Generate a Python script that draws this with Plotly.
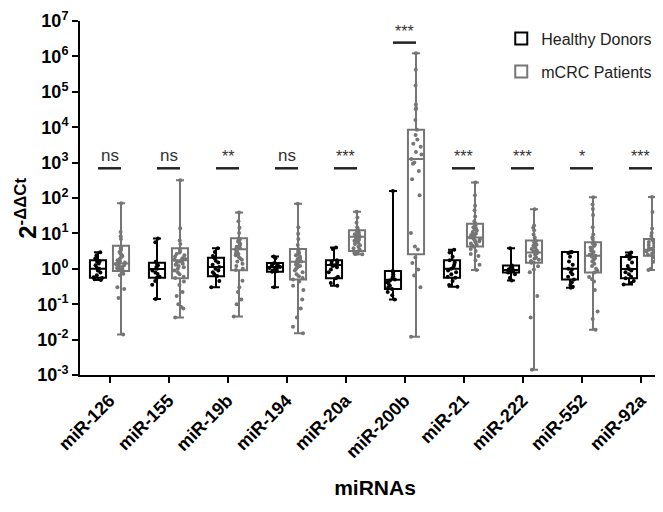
import math
import plotly.graph_objects as go

mirnas = ["miR-126", "miR-155", "miR-19b", "miR-194", "miR-20a",
          "miR-200b", "miR-21", "miR-222", "miR-552", "miR-92a"]

# Healthy donors: box statistics (min/max whiskers, quartiles, median)
hd_min = [0.48, 0.14, 0.30, 0.30, 0.33, 0.135, 0.31, 0.47, 0.29, 0.36]
hd_q1 = [0.56, 0.56, 0.62, 0.83, 0.54, 0.27, 0.56, 0.79, 0.50, 0.54]
hd_med = [1.0, 0.98, 1.12, 1.12, 1.29, 0.49, 1.0, 0.93, 1.0, 0.98]
hd_q3 = [1.74, 1.48, 2.04, 1.45, 1.74, 0.87, 1.74, 1.23, 3.0, 2.14]
hd_max = [2.95, 7.2, 3.8, 2.24, 4.0, 158, 3.47, 3.8, 3.0, 2.9]

# mCRC patients: box statistics
pt_min = [0.014, 0.042, 0.045, 0.015, 2.57, 0.012, 0.93, 0.0014, 0.019, 0.93]
pt_q1 = [0.87, 0.54, 0.91, 0.50, 3.16, 2.57, 4.27, 1.48, 0.79, 2.34]
pt_med = [1.41, 1.74, 3.55, 1.58, 8.1, 1260, 7.6, 2.88, 2.34, 3.47]
pt_q3 = [4.47, 3.8, 7.24, 3.63, 12.3, 8500, 18.6, 6.3, 5.62, 6.9]
pt_max = [70.8, 316, 38.9, 69, 40.7, 1.23e6, 275, 48, 105, 107]

# Individual sample values
hd_points = [
    [2.95, 2.4, 2.0, 1.66, 1.58, 1.41, 1.26, 1.07, 1.0, 0.89, 0.79, 0.66, 0.58, 0.55, 0.51, 0.48],
    [7.2, 5.6, 1.58, 1.41, 1.26, 1.12, 1.0, 0.89, 0.79, 0.71, 0.6, 0.56, 0.45, 0.355, 0.14],
    [3.8, 3.0, 2.3, 2.0, 1.7, 1.5, 1.3, 1.12, 1.0, 0.9, 0.8, 0.7, 0.63, 0.45, 0.3],
    [2.24, 2.0, 1.45, 1.38, 1.3, 1.22, 1.15, 1.12, 1.06, 1.0, 0.95, 0.9, 0.85, 0.83, 0.3],
    [4.0, 3.6, 1.74, 1.6, 1.5, 1.4, 1.3, 1.25, 1.2, 1.1, 0.95, 0.8, 0.6, 0.54, 0.4, 0.33],
    [158, 0.87, 0.8, 0.7, 0.62, 0.55, 0.5, 0.47, 0.42, 0.38, 0.33, 0.3, 0.27, 0.22, 0.18, 0.135],
    [3.47, 2.9, 2.2, 1.74, 1.5, 1.3, 1.15, 1.0, 0.9, 0.8, 0.7, 0.6, 0.56, 0.45, 0.35, 0.31],
    [3.8, 1.23, 1.15, 1.1, 1.05, 1.0, 0.97, 0.93, 0.9, 0.87, 0.84, 0.8, 0.79, 0.7, 0.55, 0.47],
    [3.0, 2.95, 2.9, 2.8, 2.2, 1.6, 1.3, 1.0, 0.95, 0.8, 0.7, 0.6, 0.5, 0.42, 0.35, 0.31, 0.29],
    [2.9, 2.6, 2.3, 2.14, 1.9, 1.5, 1.2, 1.0, 0.96, 0.9, 0.8, 0.7, 0.6, 0.54, 0.45, 0.4, 0.36],
]
pt_points = [
    [70.8, 11, 8.3, 6.9, 4.2, 3.8, 3.4, 3.0, 2.7, 2.5, 2.3, 2.1, 1.9, 1.75, 1.6, 1.5, 1.41, 1.35,
     1.28, 1.2, 1.12, 1.05, 1.0, 0.95, 0.9, 0.72, 0.66, 0.3, 0.27, 0.15, 0.014],
    [316, 14, 6.3, 5.0, 3.6, 3.2, 2.9, 2.6, 2.4, 2.2, 2.0, 1.9, 1.8, 1.7, 1.6, 1.5, 1.4, 1.3, 1.2,
     1.1, 1.0, 0.9, 0.8, 0.7, 0.6, 0.55, 0.44, 0.35, 0.22, 0.17, 0.1, 0.083, 0.076, 0.042],
    [38.9, 22, 14.5, 10.2, 7.2, 6.8, 6.3, 5.9, 5.5, 5.0, 4.6, 4.2, 3.9, 3.6, 3.5, 3.3, 3.0, 2.8,
     2.6, 2.4, 2.2, 2.0, 1.8, 1.6, 1.4, 1.2, 1.0, 0.92, 0.46, 0.3, 0.22, 0.135, 0.1, 0.045],
    [69, 15, 9.8, 6.9, 4.7, 3.6, 3.3, 3.0, 2.8, 2.6, 2.4, 2.2, 2.0, 1.9, 1.75, 1.6, 1.5, 1.4, 1.3,
     1.2, 1.1, 1.0, 0.9, 0.8, 0.7, 0.62, 0.55, 0.5, 0.44, 0.33, 0.25, 0.135, 0.076, 0.042, 0.023, 0.015],
    [40.7, 28, 20, 15, 13, 12, 11.5, 11, 10.5, 10, 9.5, 9, 8.5, 8.1, 7.8, 7.4, 7, 6.6, 6.2, 5.8,
     5.4, 5, 4.6, 4.2, 3.8, 3.5, 3.2, 3.0, 2.8, 2.7, 2.6, 2.57],
    [1.23e6, 4.2e5, 1.5e5, 4.4e4, 3.5e4, 3.2e4, 1.6e4, 8500, 6000, 4500, 3400, 2800, 2000, 1700,
     1260, 1000, 930, 580, 340, 120, 10.2, 4.3, 3.5, 2.1, 1.45, 0.95, 0.65, 0.3, 0.012],
    [275, 120, 60, 45, 30, 22, 18.6, 17, 15, 14, 13, 12, 11, 10, 9.5, 9, 8.5, 8, 7.6, 7.2, 6.8,
     6.4, 6.0, 5.6, 5.2, 4.8, 4.5, 4.27, 3.6, 3.2, 2.6, 2.3, 1.75, 1.3, 0.93],
    [48, 16.6, 14.5, 12.3, 9.3, 7.6, 6.3, 6.0, 5.6, 5.2, 4.8, 4.5, 4.2, 3.9, 3.6, 3.3, 3.1, 2.9,
     2.7, 2.5, 2.3, 2.1, 1.95, 1.8, 1.65, 1.5, 1.48, 1.18, 0.96, 0.8, 0.17, 0.042, 0.0014],
    [105, 66, 49, 33, 15, 9.3, 7.6, 6.9, 5.6, 5.2, 4.8, 4.4, 4.0, 3.6, 3.3, 3.0, 2.7, 2.5, 2.34,
     2.2, 2.0, 1.8, 1.6, 1.4, 1.2, 1.0, 0.9, 0.79, 0.59, 0.51, 0.44, 0.25, 0.062, 0.038, 0.019],
    [107, 40, 13.8, 10.2, 8.5, 6.9, 6.5, 6.1, 5.7, 5.3, 5.0, 4.7, 4.4, 4.1, 3.9, 3.7, 3.47, 3.3,
     3.1, 2.9, 2.7, 2.5, 2.34, 2.1, 1.9, 1.58, 1.3, 1.0, 0.93],
]

# Significance labels and the height of their bars
sig_labels = ["ns", "ns", "**", "ns", "***", "***", "***", "***", "*", "***"]
sig_heights = [690, 690, 690, 690, 690, 2.45e6, 690, 690, 690, 690]

ytick_exps = [-3, -2, -1, 0, 1, 2, 3, 4, 5, 6, 7]

FONT = "Liberation Sans, Arial, sans-serif"
GRAY = "#757575"
BOXGAP = 0.22
BOXGROUPGAP = 0.30
M_L, M_R, M_T, M_B = 72, 1, 5, 145
W, H = 663, 512

fig = go.Figure()
groups = [
    ("Healthy Donors", "hd", "black", hd_points, hd_min, hd_q1, hd_med, hd_q3, hd_max),
    ("mCRC Patients", "pt", GRAY, pt_points, pt_min, pt_q1, pt_med, pt_q3, pt_max),
]
for name, og, col, pts, mn, q1, md, q3, mx in groups:
    fig.add_trace(go.Box(
        name=name, x=mirnas, y=pts,
        q1=q1, median=md, q3=q3, lowerfence=mn, upperfence=mx,
        boxpoints="all", jitter=0.7, pointpos=0,
        fillcolor="white", line=dict(color=col, width=2), whiskerwidth=0.5,
        marker=dict(color=col, size=4),
        offsetgroup=og, legendgroup=og,
    ))

half = (1 - BOXGAP) / 4
shapes = []
annotations = []
for i, (lab, h) in enumerate(zip(sig_labels, sig_heights)):
    shapes.append(dict(type="line", xref="x", yref="y", x0=i - half, x1=i + half,
                       y0=h, y1=h, line=dict(color="#222", width=2.5)))
    annotations.append(dict(x=mirnas[i], y=math.log10(h), xref="x", yref="y",
                            text=lab, showarrow=False, yanchor="bottom", yshift=1,
                            font=dict(family=FONT, size=17 if lab == "ns" else 16, color="#333")))

# y-axis title placed as a rotated annotation
plot_w = W - M_L - M_R
plot_h = H - M_T - M_B
annotations.append(dict(
    text="2<sup>-ΔΔCt</sup>", textangle=-90, showarrow=False,
    xref="paper", yref="paper",
    x=(18 - M_L) / plot_w, y=(H - M_B - 197) / plot_h,
    xanchor="center", yanchor="middle",
    font=dict(family=FONT, size=24, weight="bold", color="black"),
))

fig.update_layout(
    width=W, height=H,
    margin=dict(l=M_L, r=M_R, t=M_T, b=M_B),
    paper_bgcolor="white", plot_bgcolor="white",
    boxmode="group", boxgap=BOXGAP, boxgroupgap=BOXGROUPGAP,
    font=dict(family=FONT, color="black"),
    shapes=shapes, annotations=annotations,
    showlegend=True,
    legend=dict(x=0.714, y=0.998, xanchor="left", yanchor="top",
                font=dict(family=FONT, size=16, color="#222"),
                bgcolor="rgba(0,0,0,0)", tracegroupgap=9, traceorder="grouped"),
)
fig.update_xaxes(
    type="category", categoryorder="array", categoryarray=mirnas,
    range=[-0.5, len(mirnas) - 0.5],
    showline=True, linecolor="black", linewidth=2, mirror=False,
    ticks="outside", ticklen=6, tickwidth=2, tickcolor="black",
    tickangle=-45, tickfont=dict(family=FONT, size=18, weight="bold"),
    showgrid=False, zeroline=False,
    title=dict(text="miRNAs", font=dict(family=FONT, size=21, weight="bold"), standoff=19),
)
fig.update_yaxes(
    type="log", range=[-3, 7],
    tickvals=[10.0 ** e for e in ytick_exps],
    ticktext=["10<sup>%s</sup>" % e for e in ytick_exps],
    ticklabeloverflow="allow",
    showline=True, linecolor="black", linewidth=2,
    ticks="outside", ticklen=6, tickwidth=2, tickcolor="black",
    tickfont=dict(family=FONT, size=18, weight="bold"),
    showgrid=False, zeroline=False,
)

fig.write_html("out.html")
